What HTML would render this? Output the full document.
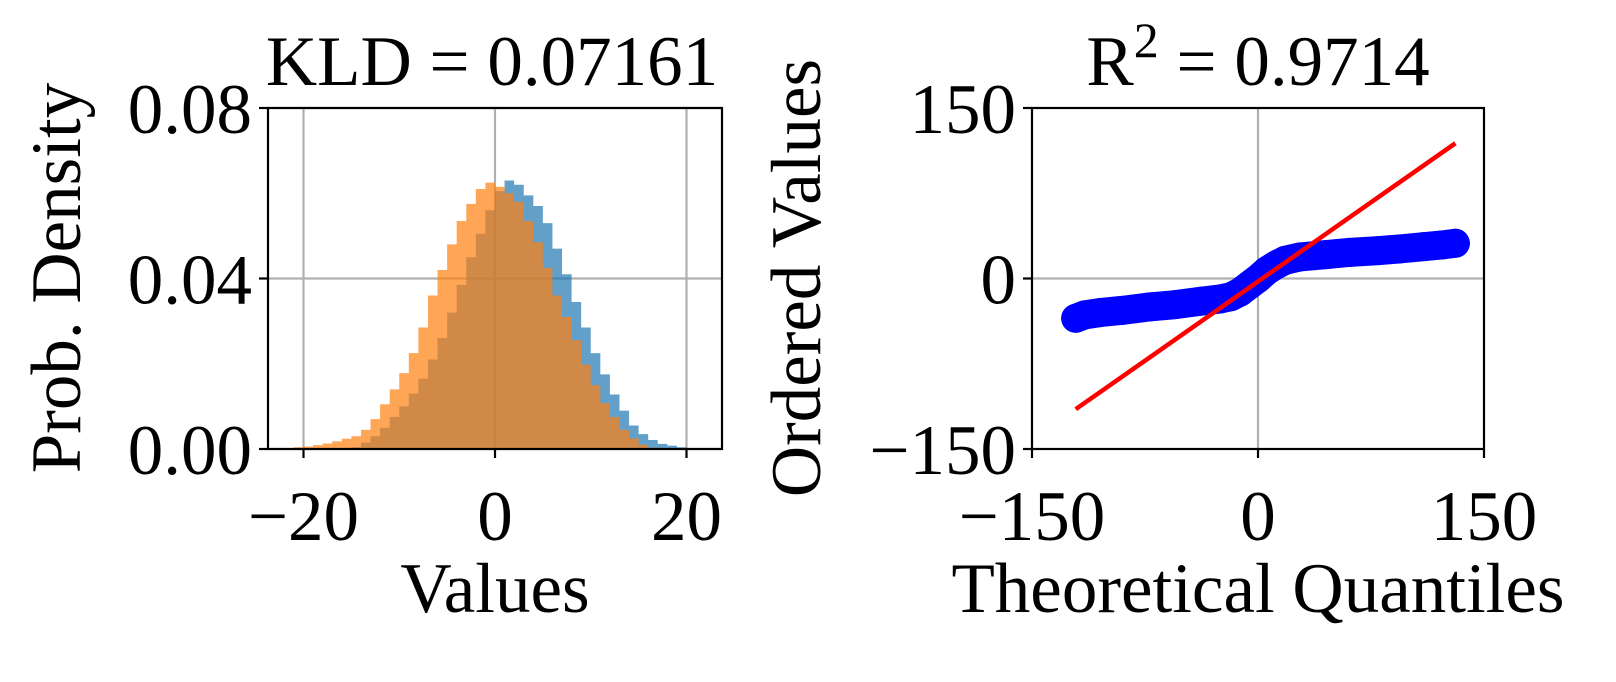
<!DOCTYPE html>
<html><head><meta charset="utf-8"><style>
html,body{margin:0;padding:0;background:#fff;}
svg text{font-family:"Liberation Serif","DejaVu Serif",serif;font-size:71px;fill:#000;}
</style></head><body>
<svg id="chart" width="1616" height="677" viewBox="0 0 1616 677" xmlns="http://www.w3.org/2000/svg">
<g id="left"></g>
<g id="right"></g>
</svg>
<script>
// Histogram data (bin centers, unit width)
const binCenters = [-21.5,-20.5,-19.5,-18.5,-17.5,-16.5,-15.5,-14.5,-13.5,-12.5,-11.5,-10.5,-9.5,-8.5,-7.5,-6.5,-5.5,-4.5,-3.5,-2.5,-1.5,-0.5,0.5,1.5,2.5,3.5,4.5,5.5,6.5,7.5,8.5,9.5,10.5,11.5,12.5,13.5,14.5,15.5,16.5,17.5,18.5,19.5,20.5];
const blueDensity = [0,0,0,0,0,0,0,0.0004,0.0015,0.0030,0.0050,0.0075,0.0100,0.0130,0.0165,0.0210,0.0260,0.0320,0.0385,0.0450,0.0505,0.0560,0.0605,0.0630,0.0620,0.0595,0.0570,0.0530,0.0470,0.0410,0.0345,0.0285,0.0225,0.0175,0.0128,0.0090,0.0055,0.0035,0.0021,0.0012,0.0008,0.0004,0.0002];
const orangeDensity = [0.0002,0.0004,0.0006,0.0009,0.0013,0.0018,0.0024,0.0030,0.0045,0.0070,0.0105,0.0140,0.0178,0.0225,0.0285,0.0360,0.0420,0.0480,0.0535,0.0575,0.0610,0.0625,0.0615,0.0600,0.0580,0.0535,0.0485,0.0425,0.0360,0.0310,0.0255,0.0198,0.0150,0.0108,0.0075,0.0045,0.0025,0.0010,0.0003,0,0,0,0];
const histXTicks = [-20,0,20];
const histYTicks = [0,0.04,0.08];
const histYTickLabels = ["0.00","0.04","0.08"];
// QQ data
const qqTheoretical = [-121,-115,-105,-90,-72,-55,-38,-25,-18,-12,-6,0,6,12,18,28,45,61,80,94,110,122,131];
const qqOrdered = [-35,-32,-30,-28,-25,-23,-20,-18,-16,-12,-6,0,7,12,16,19,21,23,24.5,26,28,29.5,31];
const fitX = [-121,131];
const fitY = [-115,119];
const qqTicks = [-150,0,150];

const NS="http://www.w3.org/2000/svg";
function mk(parent,tag,attrs,text){const e=document.createElementNS(NS,tag);for(const k in attrs)e.setAttribute(k,attrs[k]);if(text!==undefined)e.textContent=text;parent.appendChild(e);return e;}
function fmt(v){return v<0?"\u2212"+Math.abs(v):String(v);}

// Left panel
const L=document.getElementById('left');
const lx0=268,lx1=722,ly0=108,ly1=449;
const hx=v=>495+v*9.575;
const hy=v=>ly1-(v/0.08)*(ly1-ly0);
histXTicks.forEach(t=>{const g=mk(L,'line',{x1:hx(t),x2:hx(t),y1:ly0,y2:ly1,stroke:'#b0b0b0','stroke-width':2.2});

});
histYTicks.forEach(t=>{const g=mk(L,'line',{x1:lx0,x2:lx1,y1:hy(t),y2:hy(t),stroke:'#b0b0b0','stroke-width':2.2});

});
function drawHist(arr,color,name){
  let d='M'+hx(binCenters[0]-0.5)+','+hy(0);
  binCenters.forEach((c,i)=>{d+=' L'+hx(c-0.5)+','+hy(arr[i])+' L'+hx(c+0.5)+','+hy(arr[i]);});
  d+=' L'+hx(binCenters[binCenters.length-1]+0.5)+','+hy(0)+' Z';
  const p=mk(L,'path',{d:d,fill:color,'fill-opacity':0.7});
  
  
}
drawHist(blueDensity,'#1f77b4','histogram-blue');
drawHist(orangeDensity,'#ff7f0e','histogram-orange');
const lf=mk(L,'rect',{x:lx0,y:ly0,width:lx1-lx0,height:ly1-ly0,fill:'none',stroke:'#000','stroke-width':2.2});


histXTicks.forEach(t=>{mk(L,'line',{x1:hx(t),x2:hx(t),y1:ly1,y2:ly1+9,stroke:'#000','stroke-width':2.2});
const tx=mk(L,'text',{x:hx(t),y:540,'text-anchor':'middle'},fmt(t));

});
histYTicks.forEach((t,i)=>{mk(L,'line',{x1:lx0-9,x2:lx0,y1:hy(t),y2:hy(t),stroke:'#000','stroke-width':2.2});
const tx=mk(L,'text',{x:252,y:hy(t)+25,'text-anchor':'end'},histYTickLabels[i]);

});
let t1=mk(L,'text',{x:492,y:85,'text-anchor':'middle'},'KLD = 0.07161');


let t2=mk(L,'text',{x:495,y:612,'text-anchor':'middle'},'Values');


let t3=mk(L,'text',{x:0,y:0,'text-anchor':'middle',transform:'translate(80,278) rotate(-90)'},'Prob. Density');



// Right panel
const R=document.getElementById('right');
const rx0=1032,rx1=1484,ry0=108,ry1=449;
const qx=v=>1258+v*(rx1-rx0)/300;
const qy=v=>278.5-v*(ry1-ry0)/300;
const gx=mk(R,'line',{x1:qx(0),x2:qx(0),y1:ry0,y2:ry1,stroke:'#b0b0b0','stroke-width':2.2});


const gy=mk(R,'line',{x1:rx0,x2:rx1,y1:qy(0),y2:qy(0),stroke:'#b0b0b0','stroke-width':2.2});


const pts=qqTheoretical.map((x,i)=>qx(x)+','+qy(qqOrdered[i])).join(' ');
const band=mk(R,'polyline',{points:pts,fill:'none',stroke:'#0000ff','stroke-width':29,'stroke-linecap':'round','stroke-linejoin':'round'});


qqTheoretical.forEach((x,i)=>{const c=mk(R,'circle',{cx:qx(x),cy:qy(qqOrdered[i]),r:14.5,fill:'#0000ff'});

});
const fl=mk(R,'line',{x1:qx(fitX[0]),y1:qy(fitY[0]),x2:qx(fitX[1]),y2:qy(fitY[1]),stroke:'#ff0000','stroke-width':4.5});


const rf=mk(R,'rect',{x:rx0,y:ry0,width:rx1-rx0,height:ry1-ry0,fill:'none',stroke:'#000','stroke-width':2.2});


qqTicks.forEach(t=>{
mk(R,'line',{x1:qx(t),x2:qx(t),y1:ry1,y2:ry1+9,stroke:'#000','stroke-width':2.2});
const a=mk(R,'text',{x:qx(t),y:540,'text-anchor':'middle'},fmt(t));


mk(R,'line',{x1:rx0-9,x2:rx0,y1:qy(t),y2:qy(t),stroke:'#000','stroke-width':2.2});
const b=mk(R,'text',{x:1016,y:qy(t)+25,'text-anchor':'end'},fmt(t));


});
const rt=mk(R,'text',{x:1258,y:85,'text-anchor':'middle'});


rt.appendChild(document.createTextNode('R'));
const sup=mk(rt,'tspan',{dy:-28,'font-size':'50px'},'2');
mk(rt,'tspan',{dy:28},' = 0.9714');
let r2=mk(R,'text',{x:1258,y:612,'text-anchor':'middle'},'Theoretical Quantiles');


let r3=mk(R,'text',{x:0,y:0,'text-anchor':'middle',transform:'translate(820,278) rotate(-90)'},'Ordered Values');


</script>
</body></html>
